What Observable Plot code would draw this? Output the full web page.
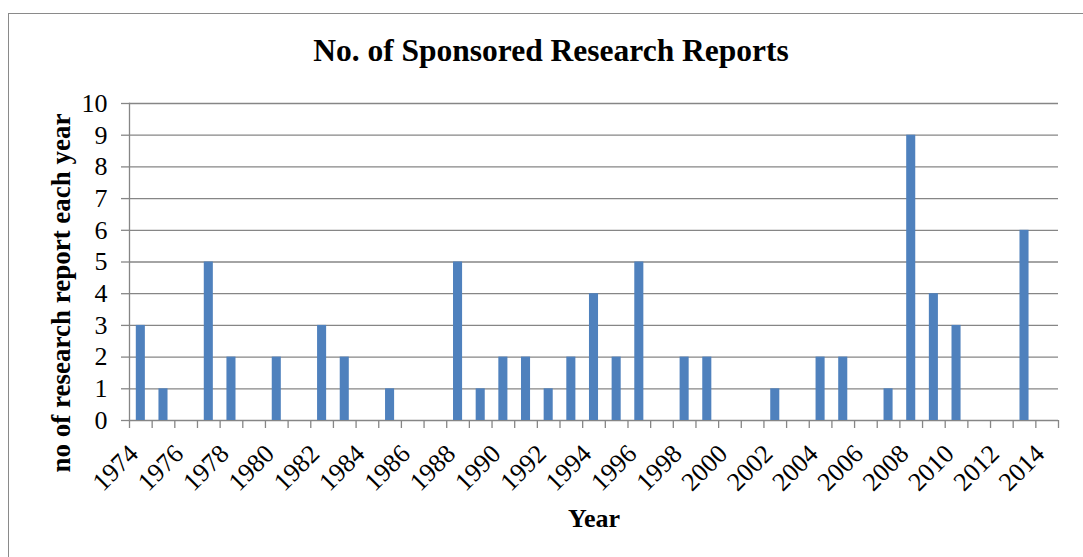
<!DOCTYPE html>
<html>
<head>
<meta charset="utf-8">
<script src="https://cdn.jsdelivr.net/npm/d3@7"></script>
<script src="https://cdn.jsdelivr.net/npm/@observablehq/plot@0.6"></script>
<style>
  html, body { margin: 0; padding: 0; background: #fff; }
  #wrap { position: relative; width: 1083px; height: 557px; overflow: hidden; font-family: "Liberation Serif", "Times New Roman", serif; color: #000; }
  #border { position: absolute; left: 8px; top: 13px; width: 1200px; height: 700px; border: 1.5px solid #8a8a8a; box-sizing: border-box; }
  #title { position: absolute; left: 0; width: 1102px; top: 31px; text-align: center; font-weight: bold; font-size: 31.5px; line-height: 40px; white-space: nowrap; }
  #ytitle { position: absolute; left: 61px; top: 293px; transform: translate(-50%, -50%) rotate(-90deg); font-weight: bold; font-size: 27px; line-height: 30px; white-space: nowrap; }
  #chart { position: absolute; left: 0; top: 0; }
  #chart svg g[aria-label="x-axis label"] text { font-weight: bold; font-size: 26px; }
</style>
</head>
<body>
<div id="wrap">
  <div id="border"></div>
  <div id="chart"></div>
  <div id="title"></div>
  <div id="ytitle"></div>
</div>
<script>
const years = [1974,1975,1976,1977,1978,1979,1980,1981,1982,1983,1984,1985,1986,1987,1988,1989,1990,1991,1992,1993,1994,1995,1996,1997,1998,1999,2000,2001,2002,2003,2004,2005,2006,2007,2008,2009,2010,2011,2012,2013,2014];
const counts = [3,1,0,5,2,0,2,0,3,2,0,1,0,0,5,1,2,2,1,2,4,2,5,0,2,2,0,0,1,0,2,2,0,1,9,4,3,0,0,6,0];
const yTicks = [0,1,2,3,4,5,6,7,8,9,10];
const xLabelYears = years.filter(y => (y - years[0]) % 2 === 0);
const chartTitle = "No. of Sponsored Research Reports";
const xTitle = "Year";
const yTitle = "no of research report each year";

document.getElementById("title").textContent = chartTitle;
document.getElementById("ytitle").textContent = yTitle;

const data = years.map((y, i) => ({year: y, count: counts[i]})).filter(d => d.count > 0);
const boundaries = years.map(y => y - 0.5).concat([years[years.length - 1] + 0.5]);
const gray = "#868686";
const half = 0.2;

const plot = Plot.plot({
  width: 1083,
  height: 557,
  marginLeft: 129,
  marginRight: 25,
  marginTop: 103,
  marginBottom: 137,
  style: {fontFamily: "'Liberation Serif', 'Times New Roman', serif", fontSize: "26px", background: "transparent", color: "#000"},
  x: {type: "linear", domain: [years[0] - 0.5, years[years.length - 1] + 0.5]},
  y: {domain: [0, 10]},
  marks: [
    Plot.gridY(yTicks, {stroke: gray, strokeOpacity: 1, strokeWidth: 1.3}),
    Plot.frame({anchor: "left", stroke: gray, strokeWidth: 1.3}),
    Plot.rectY(data, {x1: d => d.year - half, x2: d => d.year + half, y: "count", fill: "#4F81BD"}),
    Plot.axisY(yTicks, {tickSize: 8, tickPadding: 14, stroke: gray, strokeWidth: 1.3, fill: "#000", label: null}),
    Plot.axisX(boundaries, {tickSize: 8, tickFormat: () => "", stroke: gray, strokeWidth: 1.3, label: null}),
    Plot.axisX(xLabelYears, {tickSize: 0, tickRotate: -45, tickPadding: 32, dx: -7, dy: -3, tickFormat: d => String(d), fill: "#000", label: null}),
    Plot.axisX({ticks: [], label: xTitle, labelAnchor: "center", labelOffset: 106, labelArrow: "none", tickSize: 0})
  ]
});
document.getElementById("chart").appendChild(plot);
</script>
</body>
</html>
